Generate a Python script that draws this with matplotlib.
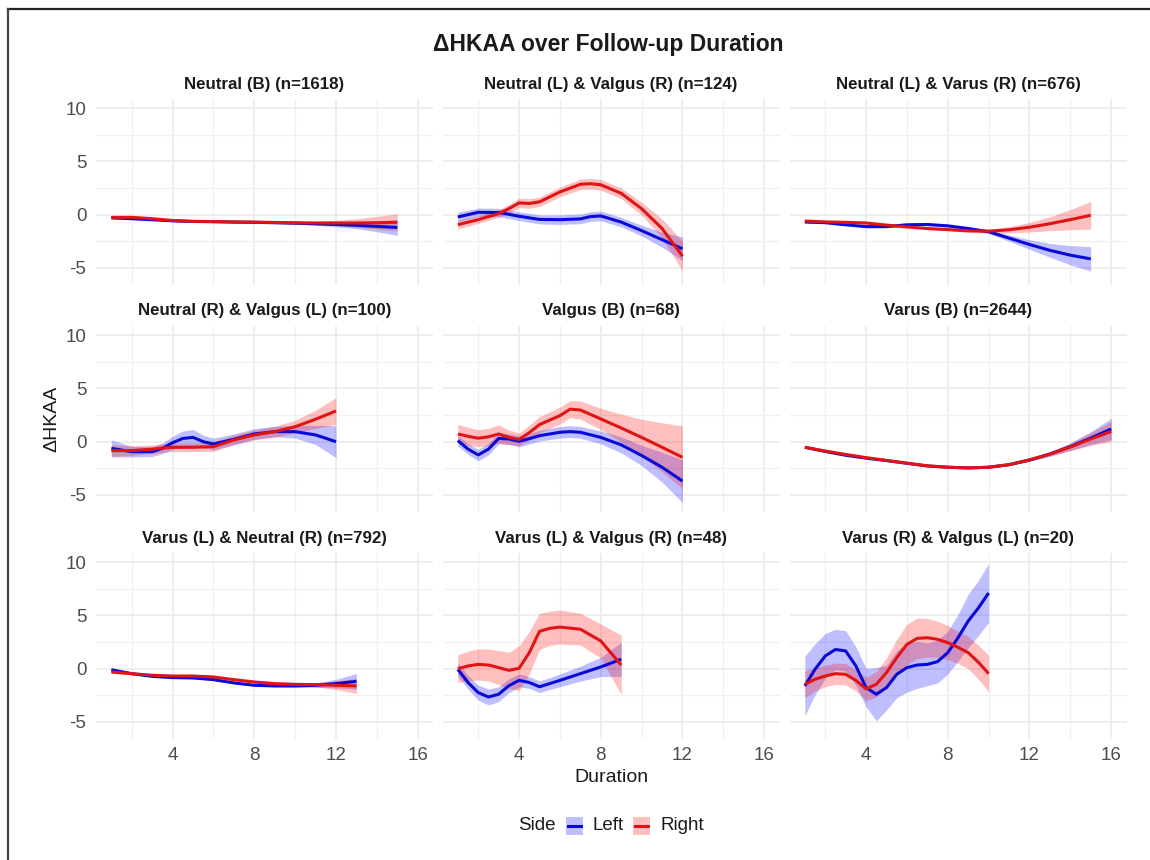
import matplotlib
matplotlib.use("Agg")
import matplotlib.pyplot as plt
from matplotlib.lines import Line2D
from matplotlib.patches import Rectangle

plt.rcParams['font.family'] = ['Liberation Sans', 'DejaVu Sans']
plt.rcParams['axes.unicode_minus'] = False

# ---- data (smoothed mean and half width of CI) ----
titles = ["Neutral (B) (n=1618)", "Neutral (L) & Valgus (R) (n=124)", "Neutral (L) & Varus (R) (n=676)",
          "Neutral (R) & Valgus (L) (n=100)", "Valgus (B) (n=68)", "Varus (B) (n=2644)",
          "Varus (L) & Neutral (R) (n=792)", "Varus (L) & Valgus (R) (n=48)", "Varus (R) & Valgus (L) (n=20)"]

nb_x = [1, 2, 3, 4, 5, 6, 7, 8, 9, 10, 11, 12, 13, 14, 15]
nb_left = [-0.3, -0.38, -0.48, -0.58, -0.64, -0.66, -0.7, -0.72, -0.76, -0.8, -0.86, -0.92, -1.0, -1.1, -1.2]
nb_left_ci = [0.12, 0.08, 0.07, 0.06, 0.06, 0.06, 0.06, 0.07, 0.08, 0.1, 0.15, 0.22, 0.32, 0.5, 0.75]
nb_right = [-0.25, -0.25, -0.38, -0.55, -0.63, -0.65, -0.68, -0.7, -0.73, -0.76, -0.78, -0.78, -0.78, -0.76, -0.72]
nb_right_ci = [0.12, 0.08, 0.07, 0.06, 0.06, 0.06, 0.06, 0.07, 0.08, 0.1, 0.15, 0.25, 0.4, 0.6, 0.8]

nlvr_x = [1, 2, 3, 3.5, 4, 4.5, 5, 6, 7, 7.5, 8, 9, 10, 11, 12]
nlvr_left = [-0.22, 0.22, 0.2, 0.03, -0.15, -0.3, -0.45, -0.47, -0.4, -0.18, -0.12, -0.7, -1.5, -2.35, -3.2]
nlvr_left_ci = [0.45, 0.4, 0.4, 0.4, 0.4, 0.42, 0.42, 0.45, 0.45, 0.45, 0.45, 0.45, 0.5, 0.7, 1.1]
nlvr_right = [-0.94, -0.47, 0.1, 0.56, 1.1, 1.05, 1.2, 2.13, 2.85, 2.9, 2.8, 2.0, 0.56, -1.3, -3.9]
nlvr_right_ci = [0.4, 0.35, 0.35, 0.4, 0.45, 0.45, 0.45, 0.45, 0.5, 0.5, 0.5, 0.5, 0.6, 0.9, 1.4]

nlvar_x = [1, 2, 3, 4, 5, 6, 7, 8, 9, 10, 11, 12, 13, 14, 15]
nlvar_left = [-0.69, -0.75, -0.95, -1.12, -1.12, -0.95, -0.92, -1.05, -1.3, -1.6, -2.2, -2.8, -3.35, -3.8, -4.15]
nlvar_left_ci = [0.1, 0.1, 0.1, 0.12, 0.12, 0.12, 0.12, 0.12, 0.14, 0.18, 0.3, 0.45, 0.65, 0.9, 1.15]
nlvar_right = [-0.6, -0.68, -0.72, -0.78, -0.98, -1.15, -1.3, -1.4, -1.52, -1.55, -1.42, -1.18, -0.85, -0.47, -0.06]
nlvar_right_ci = [0.1, 0.1, 0.1, 0.12, 0.12, 0.12, 0.12, 0.12, 0.14, 0.18, 0.3, 0.45, 0.65, 0.95, 1.3]

nrvl_x = [1, 2, 3, 3.5, 4, 4.5, 5, 5.5, 6, 7, 8, 9, 10, 11, 12]
nrvl_left = [-0.63, -0.94, -0.94, -0.63, -0.1, 0.3, 0.4, 0.0, -0.22, 0.22, 0.72, 0.94, 0.94, 0.63, 0.0]
nrvl_left_ci = [0.8, 0.5, 0.45, 0.5, 0.6, 0.7, 0.75, 0.6, 0.55, 0.5, 0.5, 0.5, 0.6, 0.9, 1.5]
nrvl_right = [-0.84, -0.84, -0.7, -0.6, -0.53, -0.53, -0.53, -0.5, -0.47, 0.16, 0.63, 0.94, 1.4, 2.1, 2.88]
nrvl_right_ci = [0.55, 0.45, 0.4, 0.4, 0.4, 0.4, 0.4, 0.42, 0.45, 0.45, 0.45, 0.5, 0.6, 0.85, 1.25]

vb_x = [1, 1.5, 2, 2.5, 3, 3.5, 4, 4.5, 5, 6, 6.5, 7, 8, 9, 10, 11, 12]
vb_left = [0.1, -0.7, -1.25, -0.7, 0.3, 0.25, 0.03, 0.28, 0.56, 0.88, 0.94, 0.88, 0.4, -0.3, -1.3, -2.4, -3.7]
vb_left_ci = [0.5, 0.5, 0.55, 0.55, 0.5, 0.5, 0.5, 0.5, 0.5, 0.55, 0.55, 0.55, 0.6, 0.75, 0.95, 1.4, 2.0]
vb_right = [0.72, 0.5, 0.32, 0.45, 0.72, 0.4, 0.2, 0.85, 1.6, 2.44, 3.05, 2.97, 2.13, 1.28, 0.4, -0.53, -1.47]
vb_right_ci = [0.9, 0.85, 0.8, 0.8, 0.85, 0.7, 0.6, 0.7, 0.75, 0.8, 0.8, 0.85, 1.0, 1.3, 1.7, 2.3, 2.95]

varb_x = [1, 2, 3, 4, 5, 6, 7, 8, 9, 10, 11, 12, 13, 14, 15, 16]
varb_left = [-0.53, -0.92, -1.28, -1.55, -1.78, -2.03, -2.28, -2.4, -2.47, -2.4, -2.16, -1.72, -1.16, -0.47, 0.34, 1.19]
varb_left_ci = [0.05, 0.04, 0.04, 0.04, 0.04, 0.04, 0.04, 0.05, 0.05, 0.06, 0.08, 0.12, 0.2, 0.35, 0.6, 1.0]
varb_right = [-0.53, -0.88, -1.2, -1.5, -1.76, -2.02, -2.27, -2.4, -2.46, -2.4, -2.16, -1.72, -1.16, -0.5, 0.25, 0.95]
varb_right_ci = [0.05, 0.04, 0.04, 0.04, 0.04, 0.04, 0.04, 0.05, 0.05, 0.06, 0.08, 0.12, 0.2, 0.35, 0.6, 0.95]

vlnr_x = [1, 2, 3, 4, 5, 6, 7, 8, 9, 10, 11, 12, 13]
vlnr_left = [-0.1, -0.47, -0.72, -0.84, -0.87, -1.03, -1.34, -1.56, -1.62, -1.62, -1.56, -1.4, -1.19]
vlnr_left_ci = [0.15, 0.1, 0.08, 0.08, 0.08, 0.08, 0.08, 0.08, 0.1, 0.12, 0.2, 0.4, 0.73]
vlnr_right = [-0.31, -0.47, -0.62, -0.69, -0.69, -0.78, -1.03, -1.25, -1.4, -1.47, -1.5, -1.56, -1.62]
vlnr_right_ci = [0.15, 0.1, 0.08, 0.08, 0.08, 0.08, 0.08, 0.08, 0.1, 0.12, 0.2, 0.4, 0.7]

vlvr_x = [1, 1.5, 2, 2.5, 3, 3.5, 4, 4.5, 5, 5.5, 6, 7, 8, 9]
vlvr_left = [-0.06, -1.3, -2.25, -2.66, -2.4, -1.6, -1.1, -1.3, -1.7, -1.4, -1.1, -0.47, 0.16, 0.88]
vlvr_left_ci = [0.6, 0.65, 0.7, 0.75, 0.7, 0.65, 0.6, 0.55, 0.55, 0.55, 0.6, 0.7, 0.9, 1.6]
vlvr_right = [0.0, 0.25, 0.4, 0.34, 0.1, -0.16, 0.03, 1.5, 3.5, 3.78, 3.9, 3.7, 2.6, 0.34]
vlvr_right_ci = [1.3, 1.4, 1.45, 1.5, 1.6, 1.7, 2.1, 2.0, 1.7, 1.6, 1.6, 1.5, 1.6, 2.8]

vrvl_x = [1, 1.5, 2, 2.5, 3, 3.5, 4, 4.5, 5, 5.5, 6, 6.5, 7, 7.5, 8, 8.5, 9, 9.5, 10]
vrvl_left = [-1.63, -0.06, 1.19, 1.8, 1.66, 0.25, -1.78, -2.4, -1.78, -0.53, 0.1, 0.34, 0.4, 0.66, 1.5, 2.9, 4.47, 5.7, 7.1]
vrvl_left_ci = [2.8, 2.4, 2.1, 1.9, 1.9, 1.8, 1.8, 2.5, 2.1, 2.2, 2.3, 2.2, 2.0, 2.0, 2.0, 2.2, 2.5, 2.6, 2.75]
vrvl_right = [-1.47, -1.0, -0.69, -0.47, -0.53, -1.1, -1.9, -1.47, -0.37, 1.03, 2.28, 2.84, 2.9, 2.75, 2.44, 2.0, 1.5, 0.6, -0.47]
vrvl_right_ci = [1.25, 1.1, 1.0, 1.0, 1.0, 1.0, 1.1, 1.2, 1.4, 1.7, 1.9, 1.9, 1.8, 1.7, 1.6, 1.5, 1.5, 1.6, 1.7]

panels = [
    (nb_x, nb_left, nb_left_ci, nb_right, nb_right_ci),
    (nlvr_x, nlvr_left, nlvr_left_ci, nlvr_right, nlvr_right_ci),
    (nlvar_x, nlvar_left, nlvar_left_ci, nlvar_right, nlvar_right_ci),
    (nrvl_x, nrvl_left, nrvl_left_ci, nrvl_right, nrvl_right_ci),
    (vb_x, vb_left, vb_left_ci, vb_right, vb_right_ci),
    (varb_x, varb_left, varb_left_ci, varb_right, varb_right_ci),
    (vlnr_x, vlnr_left, vlnr_left_ci, vlnr_right, vlnr_right_ci),
    (vlvr_x, vlvr_left, vlvr_left_ci, vlvr_right, vlvr_right_ci),
    (vrvl_x, vrvl_left, vrvl_left_ci, vrvl_right, vrvl_right_ci),
]

BLUE = '#0a0ad8'
RED = '#e01414'
GRID = '#EBEBEB'
W, H = 1150, 860

fig = plt.figure(figsize=(W / 100, H / 100), dpi=100)

col_left = [96, 442.5, 789.5]
row_top = [99, 326, 553]
pw, ph = 337, 186

def band(ax, x, y, ci, color, alpha):
    lo = [a - b for a, b in zip(y, ci)]
    hi = [a + b for a, b in zip(y, ci)]
    ax.fill_between(x, lo, hi, color=color, alpha=alpha, linewidth=0)

for i, (x, l, lci, r, rci) in enumerate(panels):
    row, col = divmod(i, 3)
    ax = fig.add_axes([col_left[col] / W, 1 - (row_top[row] + ph) / H, pw / W, ph / H])
    ax.set_xlim(0.25, 16.75)
    ax.set_ylim(-6.6, 10.85)
    ax.set_xticks([4, 8, 12, 16])
    ax.set_xticks([2, 6, 10, 14], minor=True)
    ax.set_yticks([-5, 0, 5, 10])
    ax.set_yticks([-2.5, 2.5, 7.5], minor=True)
    ax.grid(True, which='major', color=GRID, linewidth=1.2)
    ax.grid(True, which='minor', color='#F0F0F0', linewidth=0.9)
    ax.set_axisbelow(True)
    for s in ax.spines.values():
        s.set_visible(False)
    ax.tick_params(which='both', length=0, labelsize=13.5, labelcolor='#4D4D4D')
    ax.tick_params(axis='y', pad=7)
    ax.tick_params(axis='x', pad=6)
    if col != 0:
        ax.set_yticklabels([])
    if row != 2:
        ax.set_xticklabels([])

    # left then right, ribbon then line (ggplot draw order)
    band(ax, x, l, lci, 'blue', 0.25)
    ax.plot(x, l, color=BLUE, linewidth=2.2, solid_capstyle='butt')
    band(ax, x, r, rci, 'red', 0.25)
    ax.plot(x, r, color=RED, linewidth=2.2, solid_capstyle='butt')

    fig.text((col_left[col] + pw / 2) / W, 1 - (row_top[row] - 15) / H, titles[i],
             ha='center', va='center', fontsize=12.2, fontweight='bold', color='#1A1A1A')

fig.text(608 / W, 1 - 45 / H, 'ΔHKAA over Follow-up Duration', ha='center', va='center',
         fontsize=16.5, fontweight='bold', color='#1A1A1A')
fig.text(611 / W, 1 - 777 / H, 'Duration', ha='center', va='center', fontsize=14, color='#1A1A1A')
fig.text(52 / W, 1 - 419 / H, 'ΔHKAA', ha='center', va='center', rotation=90, fontsize=14, color='#1A1A1A')

# overlay in pixel coords for frame and legend
ov = fig.add_axes([0, 0, 1, 1], facecolor='none')
ov.set_xlim(0, W)
ov.set_ylim(H, 0)
ov.axis('off')
ov.plot([8, W], [9, 9], color='#222222', linewidth=1.6)
ov.plot([8, 8], [9, H], color='#444444', linewidth=1.6)

ov.text(518, 825, 'Side', ha='left', va='center', fontsize=13.5, color='#1A1A1A')
for kx, tx, fc, lc, lab in [(566, 592, 'blue', BLUE, 'Left'), (633, 660, 'red', RED, 'Right')]:
    ov.add_patch(Rectangle((kx, 817), 17, 18, facecolor=fc, alpha=0.25, linewidth=0))
    ov.add_line(Line2D([kx + 2, kx + 15], [826, 826], color=lc, linewidth=2.2))
    ov.text(tx, 825, lab, ha='left', va='center', fontsize=13.5, color='#1A1A1A')

fig.savefig('out.png', dpi=100)
